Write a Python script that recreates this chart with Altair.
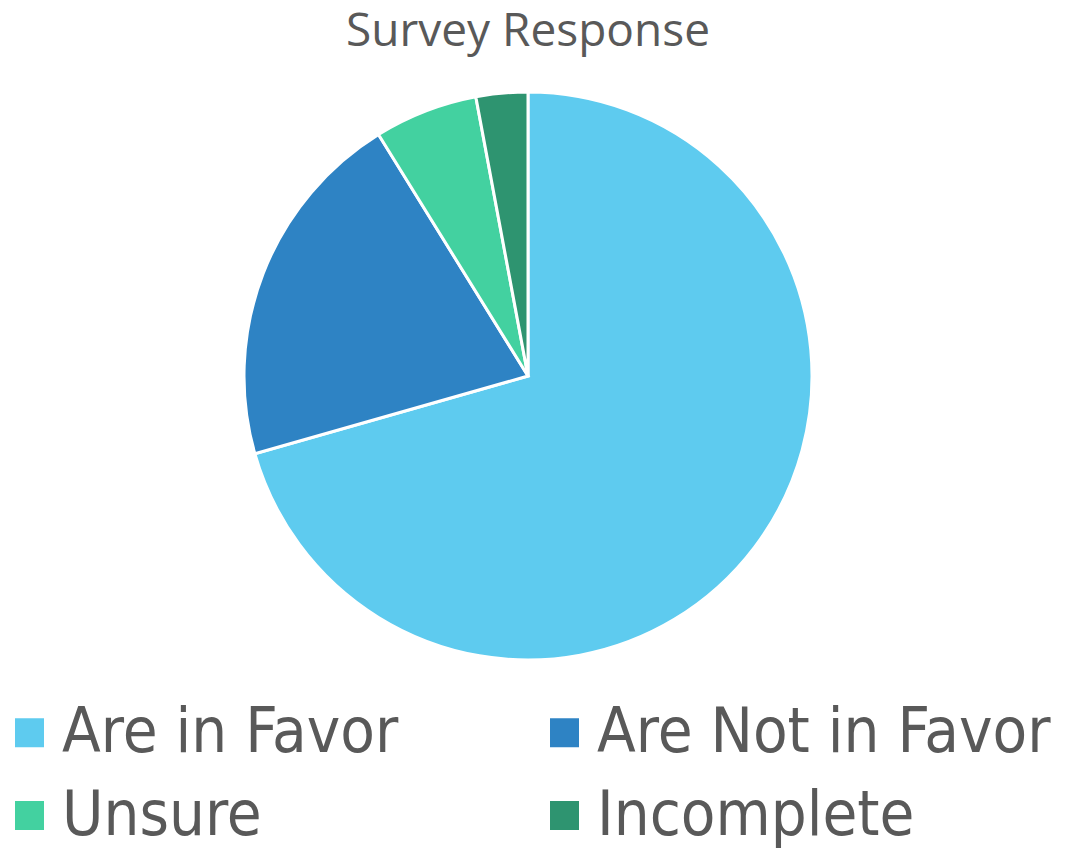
import altair as alt
import pandas as pd

categories = ["Are in Favor", "Are Not in Favor", "Unsure", "Incomplete"]
counts = [24, 7, 2, 1]
colors = ["#5ECBEF", "#2E83C4", "#43D1A0", "#2E9470"]
title_text = ["Survey Response"]

df = pd.DataFrame({"Response": categories, "Count": counts, "order": list(range(len(categories)))})
tdf = pd.DataFrame({"t": title_text})

pie = alt.Chart(df).mark_arc(radius=284, stroke="white", strokeWidth=3).encode(
    theta=alt.Theta("Count:Q", stack=True),
    order=alt.Order("order:Q"),
    x=alt.value(520),
    y=alt.value(368),
    color=alt.Color(
        "Response:N",
        sort=categories,
        scale=alt.Scale(domain=categories, range=colors),
        legend=alt.Legend(
            title=None,
            orient="none",
            direction="horizontal",
            legendX=-10,
            legendY=693,
            columns=2,
            padding=0,
            symbolType="square",
            symbolSize=841,
            symbolStrokeWidth=0,
            symbolOpacity=1,
            labelFont="DejaVu Sans Condensed",
            labelFontSize=63,
            labelColor="#595959",
            labelOffset=1,
            labelLimit=800,
            rowPadding=19,
            columnPadding=134,
        ),
    ),
)

title = alt.Chart(tdf).mark_text(
    font="Open Sans", fontSize=46, color="#595959", baseline="alphabetic", align="center"
).encode(text="t:N", x=alt.value(520), y=alt.value(38))

chart = alt.layer(pie, title).properties(
    width=1055, height=842, autosize="none", padding=0
).configure_view(strokeWidth=0)

chart.save("out.html", embed_options={"renderer": "svg", "actions": False})
